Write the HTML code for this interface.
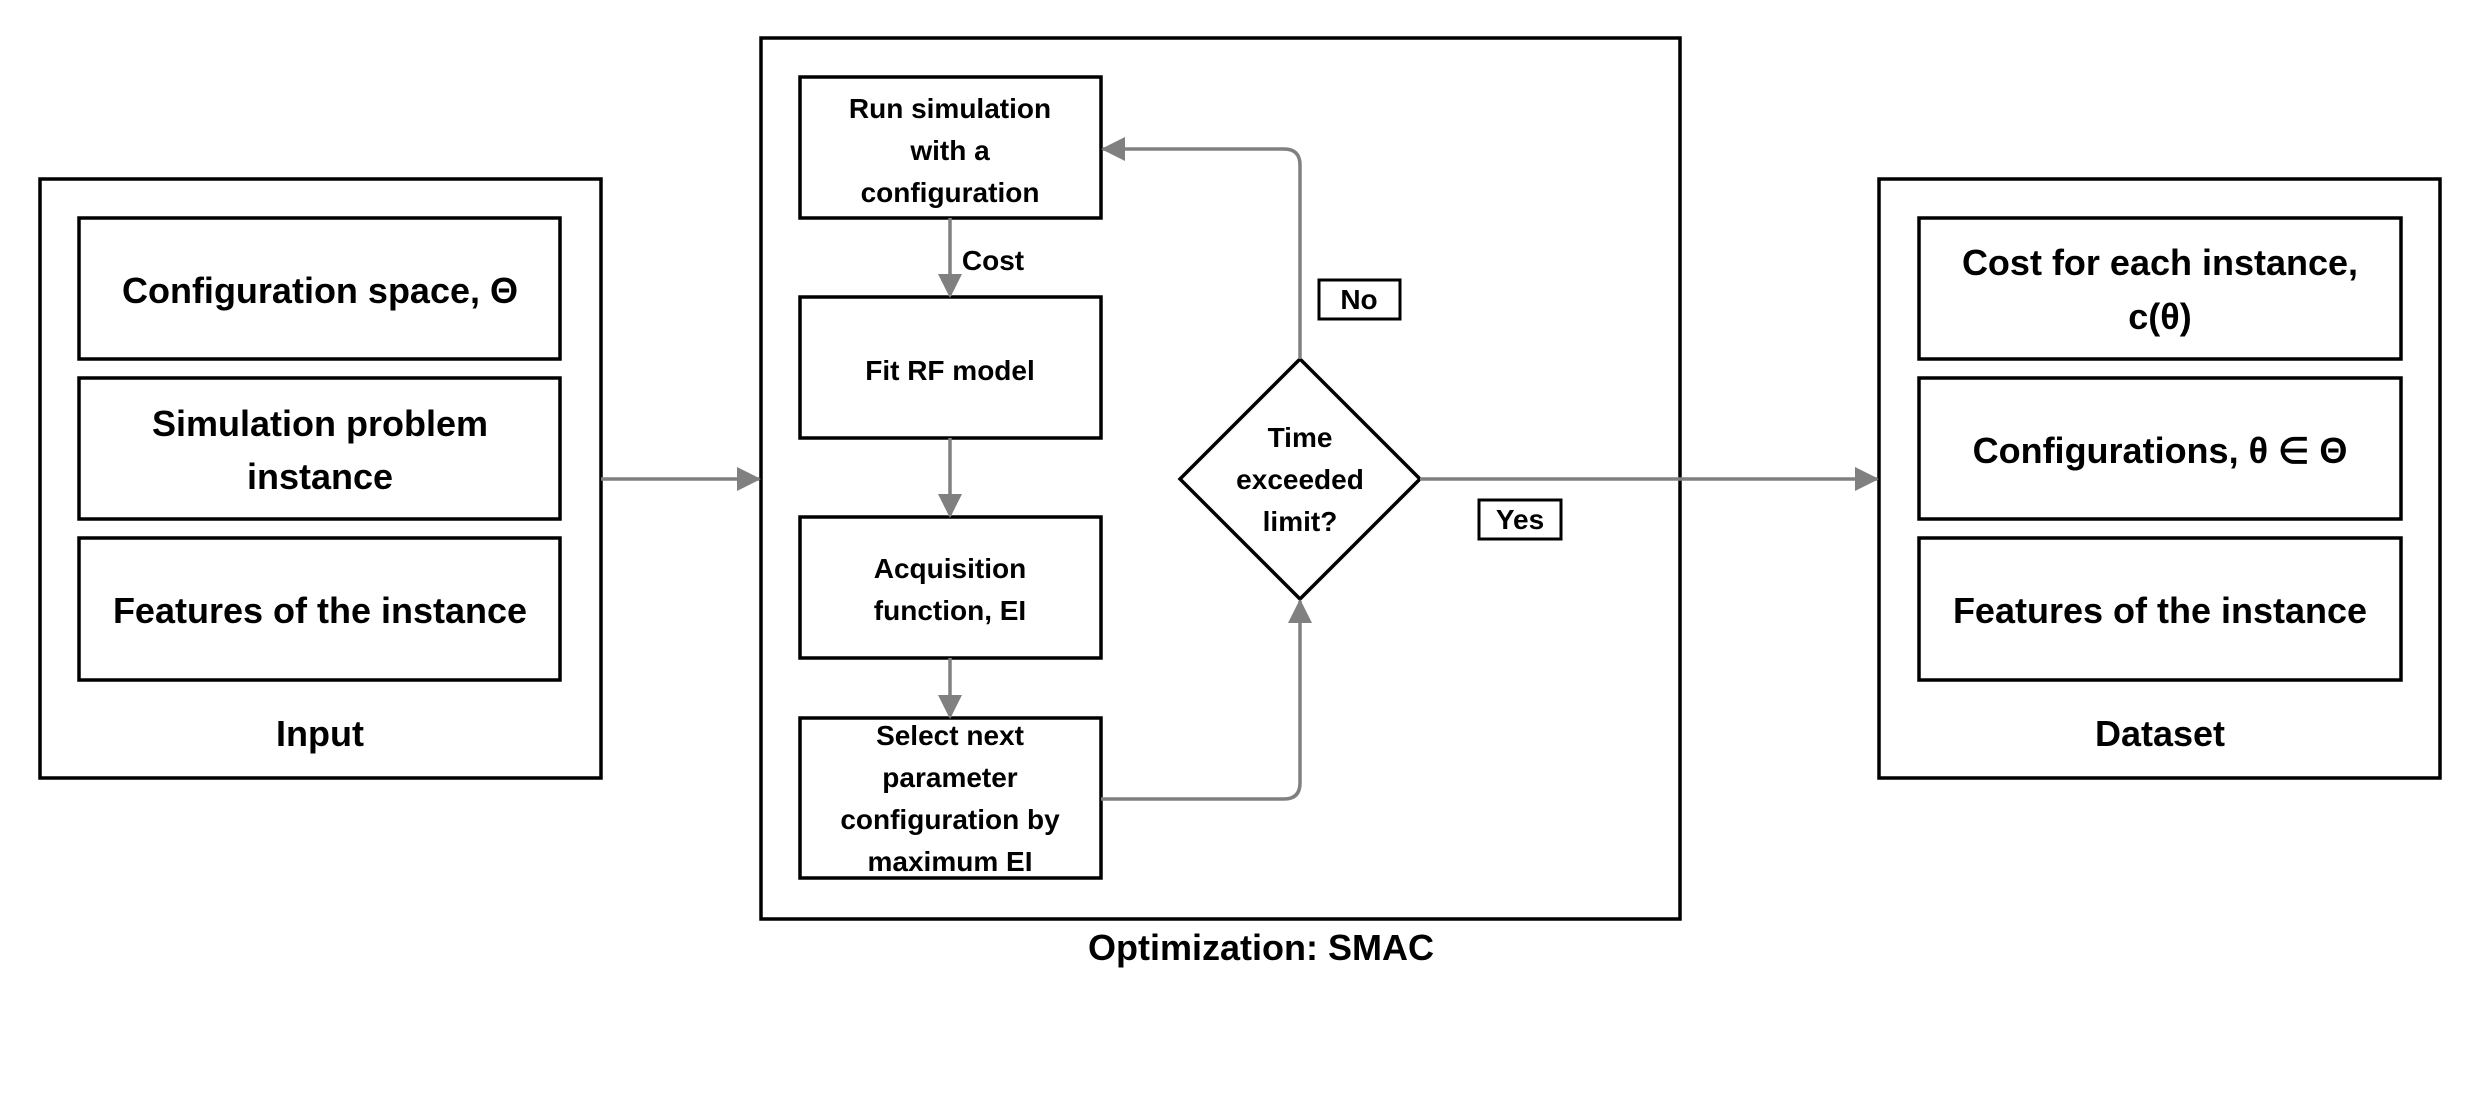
<!DOCTYPE html>
<html><head><meta charset="utf-8"><style>
body{margin:0;background:#fff;}
svg text{font-family:"Liberation Sans",sans-serif;font-weight:bold;fill:#000;text-anchor:middle;}
</style></head><body>
<svg width="2480" height="1088" viewBox="0 0 2480 1088" xmlns="http://www.w3.org/2000/svg">
<defs>
<marker id="b" markerWidth="24" markerHeight="24" refX="22" refY="12" orient="auto" markerUnits="userSpaceOnUse" viewBox="0 0 24 24"><path d="M0,0 L24,12 L0,24 z" fill="#808080"/></marker></defs>
<g fill="none" stroke="#000" stroke-width="3.5">
<rect x="40" y="179" width="561" height="599"/>
<rect x="79" y="218" width="481" height="141"/>
<rect x="79" y="378" width="481" height="141"/>
<rect x="79" y="538" width="481" height="142"/>
<rect x="761" y="38" width="919" height="881"/>
<rect x="800" y="77" width="301" height="141"/>
<rect x="800" y="297" width="301" height="141"/>
<rect x="800" y="517" width="301" height="141"/>
<rect x="800" y="718" width="301" height="160"/>
<polygon points="1300,359 1420,479 1300,599 1180,479"/>
<rect x="1319" y="280" width="81" height="39" stroke-width="3"/>
<rect x="1479" y="500" width="82" height="39" stroke-width="3"/>
<rect x="1879" y="179" width="561" height="599"/>
<rect x="1919" y="218" width="482" height="141"/>
<rect x="1919" y="378" width="482" height="141"/>
<rect x="1919" y="538" width="482" height="142"/>
</g>
<g fill="none" stroke="#808080" stroke-width="3.5">
<line x1="601" y1="479" x2="759" y2="479" marker-end="url(#b)"/>
<line x1="1420" y1="479" x2="1877" y2="479" marker-end="url(#b)"/>
<line x1="950" y1="218" x2="950" y2="296" marker-end="url(#b)"/>
<line x1="950" y1="438" x2="950" y2="516" marker-end="url(#b)"/>
<line x1="950" y1="658" x2="950" y2="717" marker-end="url(#b)"/>
<path d="M1300,359 L1300,165 Q1300,149 1284,149 L1103,149" marker-end="url(#b)"/>
<path d="M1101,799 L1284,799 Q1300,799 1300,783 L1300,601" marker-end="url(#b)"/>
</g>
<g font-size="36">
<text x="320" y="303">Configuration space, Θ</text>
<text x="320" y="436">Simulation problem</text>
<text x="320" y="489">instance</text>
<text x="320" y="623">Features of the instance</text>
<text x="320" y="746">Input</text>
<text x="2160" y="275">Cost for each instance,</text>
<text x="2160" y="329">c(θ)</text>
<text x="2160" y="463">Configurations, θ ∈ Θ</text>
<text x="2160" y="623">Features of the instance</text>
<text x="2160" y="746">Dataset</text>
<text x="1261" y="960">Optimization: SMAC</text>
</g>
<g font-size="28">
<text x="950" y="118">Run simulation</text>
<text x="950" y="160">with a</text>
<text x="950" y="202">configuration</text>
<text x="993" y="270">Cost</text>
<text x="950" y="380">Fit RF model</text>
<text x="950" y="578">Acquisition</text>
<text x="950" y="620">function, EI</text>
<text x="950" y="745">Select next</text>
<text x="950" y="787">parameter</text>
<text x="950" y="829">configuration by</text>
<text x="950" y="871">maximum EI</text>
<text x="1300" y="447">Time</text>
<text x="1300" y="489">exceeded</text>
<text x="1300" y="531">limit?</text>
<text x="1359" y="309">No</text>
<text x="1520" y="529">Yes</text>
</g>
</svg>
</body></html>
